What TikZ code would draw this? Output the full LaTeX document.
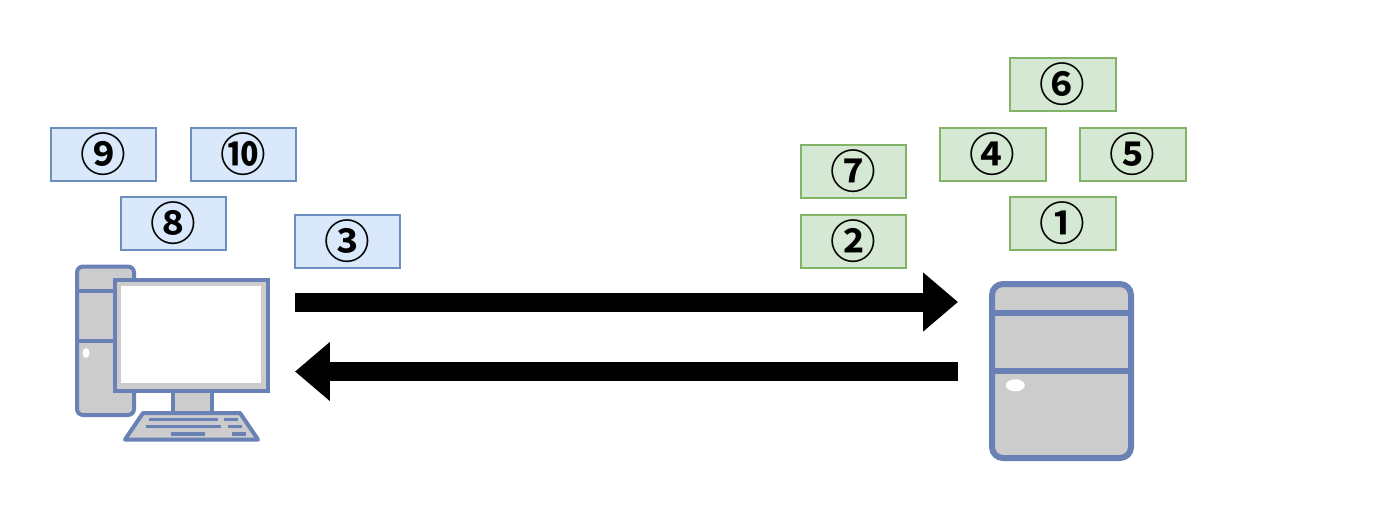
\documentclass[tikz,border=0pt]{standalone}
\usepackage{fontspec}
\newfontfamily\numfont{Noto Sans CJK JP Bold}
\usetikzlibrary{arrows.meta}
\definecolor{bluefill}{HTML}{DAE8FC}
\definecolor{blueline}{HTML}{6C8EBF}
\definecolor{greenfill}{HTML}{D5E8D4}
\definecolor{greenline}{HTML}{82B366}
\definecolor{iconline}{HTML}{6A81B5}
\definecolor{icongray}{HTML}{CCCCCC}
\tikzset{
  numbox/.style={draw, line width=0.04cm, minimum width=2.12cm, minimum height=1.06cm, inner sep=0pt, font=\numfont\fontsize{26}{26}\selectfont},
  clientbox/.style={numbox, fill=bluefill, draw=blueline},
  serverbox/.style={numbox, fill=greenfill, draw=greenline},
  flow/.style={line width=0.38cm, -{Triangle[length=0.7cm, width=1.14cm]}},
  icon/.style={draw=iconline, fill=icongray, line width=0.08cm},
  iconbar/.style={draw=iconline, line width=0.08cm},
  keyrow/.style={draw=iconline, line width=0.07cm},
}
\begin{document}
\begin{tikzpicture}[x=0.02cm, y=-0.02cm]
  \useasboundingbox (0,0) rectangle (1400,505);
  % client pc
  \draw[icon, rounded corners=0.12cm] (77,266.5) rectangle (134,415);
  \draw[iconbar] (77,291) -- (115,291);
  \draw[iconbar] (77,340.5) -- (115,340.5);
  \fill[white] (86,353) ellipse (3.5 and 5);
  \draw[icon] (172.5,391) rectangle (211.5,413);
  \draw[icon] (115,279.5) rectangle (268,391);
  \fill[white] (120.7,286) rectangle (261,383);
  \draw[icon, line join=round] (143,413) -- (240,413) -- (258,439.5) -- (125,439.5) -- cycle;
  \draw[keyrow] (149,419.5) -- (218,419.5);
  \draw[keyrow] (224,419.5) -- (238,419.5);
  \draw[keyrow] (146,426.7) -- (221,426.7);
  \draw[keyrow] (228,426.7) -- (242,426.7);
  \draw[keyrow] (171,434) -- (205,434);
  \draw[keyrow] (232,434) -- (246,434);
  % server
  \draw[icon, line width=0.12cm, rounded corners=0.22cm] (992,284) rectangle (1131,458);
  \draw[iconbar, line width=0.12cm] (992,312.7) -- (1131,312.7);
  \draw[iconbar, line width=0.12cm] (992,370.7) -- (1131,370.7);
  \fill[white] (1015.3,385.3) ellipse (9.5 and 6);
  % client steps
  \node[clientbox] (nine) at (103.5,154) {⑨};
  \node[clientbox] (ten) at (243.5,154) {⑩};
  \node[clientbox] (eight) at (173.5,223.5) {⑧};
  \node[clientbox] (three) at (347.5,241) {③};
  % server steps
  \node[serverbox] (six) at (1062.5,84.5) {⑥};
  \node[serverbox] (four) at (992.5,154) {④};
  \node[serverbox] (five) at (1132.5,154) {⑤};
  \node[serverbox] (seven) at (853.5,171.5) {⑦};
  \node[serverbox] (two) at (853.5,241) {②};
  \node[serverbox] (one) at (1062.5,223.5) {①};
  % request and response
  \coordinate (reqstart) at (295,302);
  \coordinate (reqend) at (958,302);
  \coordinate (resstart) at (958,371.5);
  \coordinate (resend) at (295,371.5);
  \draw[flow] (reqstart) -- (reqend);
  \draw[flow] (resstart) -- (resend);
\end{tikzpicture}
\end{document}
